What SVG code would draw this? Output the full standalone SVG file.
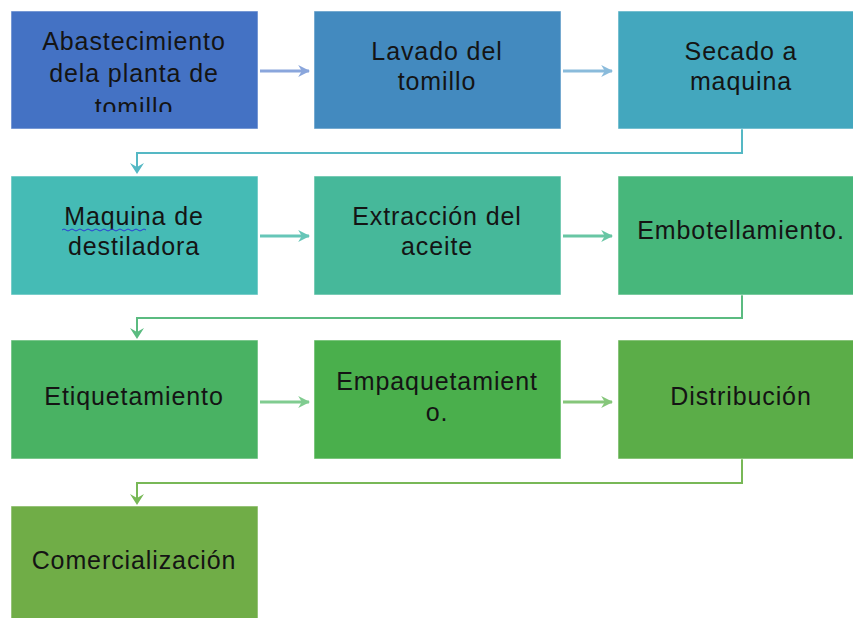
<svg xmlns="http://www.w3.org/2000/svg" width="853" height="618" viewBox="0 0 853 618">
<style>
.box{stroke:#ffffff;stroke-opacity:0.55;stroke-width:1}
.t{font-family:"Liberation Sans",Arial,sans-serif;font-size:25px;letter-spacing:0.9px;fill:#141414;text-anchor:middle}
.c{fill:none;stroke-width:3}
</style>
<defs>
<clipPath id="clip1"><rect x="11" y="11" width="247" height="101"/></clipPath>
<marker id="mBlue" viewBox="0 0 10 10" refX="9" refY="5" markerWidth="4" markerHeight="4.6" markerUnits="strokeWidth" orient="auto"><path d="M0,0 L10,5 L0,10 L3,5 Z" fill="#8aa6dc"/></marker>
<marker id="mBlue2" viewBox="0 0 10 10" refX="9" refY="5" markerWidth="4" markerHeight="4.6" markerUnits="strokeWidth" orient="auto"><path d="M0,0 L10,5 L0,10 L3,5 Z" fill="#8abbdb"/></marker>
<marker id="mTeal2" viewBox="0 0 10 10" refX="9" refY="5" markerWidth="4" markerHeight="4.6" markerUnits="strokeWidth" orient="auto"><path d="M0,0 L10,5 L0,10 L3,5 Z" fill="#66c6b8"/></marker>
<marker id="mTeal3" viewBox="0 0 10 10" refX="9" refY="5" markerWidth="4" markerHeight="4.6" markerUnits="strokeWidth" orient="auto"><path d="M0,0 L10,5 L0,10 L3,5 Z" fill="#68c6a4"/></marker>
<marker id="mGreen2" viewBox="0 0 10 10" refX="9" refY="5" markerWidth="4" markerHeight="4.6" markerUnits="strokeWidth" orient="auto"><path d="M0,0 L10,5 L0,10 L3,5 Z" fill="#80cc90"/></marker>
<marker id="mGreen3" viewBox="0 0 10 10" refX="9" refY="5" markerWidth="4" markerHeight="4.6" markerUnits="strokeWidth" orient="auto"><path d="M0,0 L10,5 L0,10 L3,5 Z" fill="#85c67a"/></marker>
</defs>
<rect width="853" height="618" fill="#ffffff"/>

<g id="connectors">
<path class="c" d="M260,71 H309" stroke="#8aa6dc" marker-end="url(#mBlue)"/>
<path class="c" d="M563,71 H612" stroke="#8abbdb" marker-end="url(#mBlue2)"/>
<path d="M742,129 V153 H137 V170" fill="none" stroke="#55b8c4" stroke-width="2"/>
<path d="M130,163 L137,174 L144,163 L137,167 Z" fill="#55b8c4"/>
<path class="c" d="M260,236 H309" stroke="#66c6b8" marker-end="url(#mTeal2)"/>
<path class="c" d="M563,236 H612" stroke="#68c6a4" marker-end="url(#mTeal3)"/>
<path d="M742,295 V318 H137 V335" fill="none" stroke="#5bbb80" stroke-width="2"/>
<path d="M130,328 L137,339 L144,328 L137,332 Z" fill="#5bbb80"/>
<path class="c" d="M260,402 H309" stroke="#80cc90" marker-end="url(#mGreen2)"/>
<path class="c" d="M563,402 H612" stroke="#85c67a" marker-end="url(#mGreen3)"/>
<path d="M742,459 V483 H137 V501" fill="none" stroke="#78b857" stroke-width="2"/>
<path d="M130,494 L137,505 L144,494 L137,498 Z" fill="#78b857"/>
</g>

<g id="n1">
<rect class="box" x="11" y="11" width="247" height="118" fill="#4472c4"/>
<g clip-path="url(#clip1)">
<text class="t" x="134" y="50">Abastecimiento</text>
<text class="t" x="134" y="82">dela planta de</text>
<text class="t" x="134" y="116">tomillo</text>
</g>
</g>
<g id="n2">
<rect class="box" x="314" y="11" width="247" height="118" fill="#438abf"/>
<text class="t" x="437" y="60">Lavado del</text>
<text class="t" x="437" y="90">tomillo</text>
</g>
<g id="n3">
<rect class="box" x="618" y="11" width="247" height="118" fill="#43a7be"/>
<text class="t" x="741" y="60">Secado a</text>
<text class="t" x="741" y="90">maquina</text>
</g>
<g id="n4">
<rect class="box" x="11" y="176" width="247" height="119" fill="#45bbb5"/>
<text class="t" x="134" y="225">Maquina de</text>
<path d="M62,230 q2,-2 4,0 t4,0 t4,0 t4,0 t4,0 t4,0 t4,0 t4,0 t4,0 t4,0 t4,0 t4,0 t4,0 t4,0 t4,0 t4,0 t4,0 t4,0 t4,0 t4,0 t4,0" fill="none" stroke="#2b3bd6" stroke-width="1"/>
<text class="t" x="134" y="255">destiladora</text>
</g>
<g id="n5">
<rect class="box" x="314" y="176" width="247" height="119" fill="#46b89a"/>
<text class="t" x="437" y="225">Extracción del</text>
<text class="t" x="437" y="255">aceite</text>
</g>
<g id="n6">
<rect class="box" x="618" y="176" width="247" height="119" fill="#47b77b"/>
<text class="t" x="741" y="239">Embotellamiento.</text>
</g>
<g id="n7">
<rect class="box" x="11" y="340" width="247" height="119" fill="#49b263"/>
<text class="t" x="134" y="405">Etiquetamiento</text>
</g>
<g id="n8">
<rect class="box" x="314" y="340" width="247" height="119" fill="#4aaf4c"/>
<text class="t" x="437" y="390">Empaquetamient</text>
<text class="t" x="437" y="421">o.</text>
</g>
<g id="n9">
<rect class="box" x="618" y="340" width="247" height="119" fill="#5bad48"/>
<text class="t" x="741" y="405">Distribución</text>
</g>
<g id="n10">
<rect class="box" x="11" y="506" width="247" height="119" fill="#70ad47"/>
<text class="t" x="134" y="569">Comercialización</text>
</g>
</svg>
